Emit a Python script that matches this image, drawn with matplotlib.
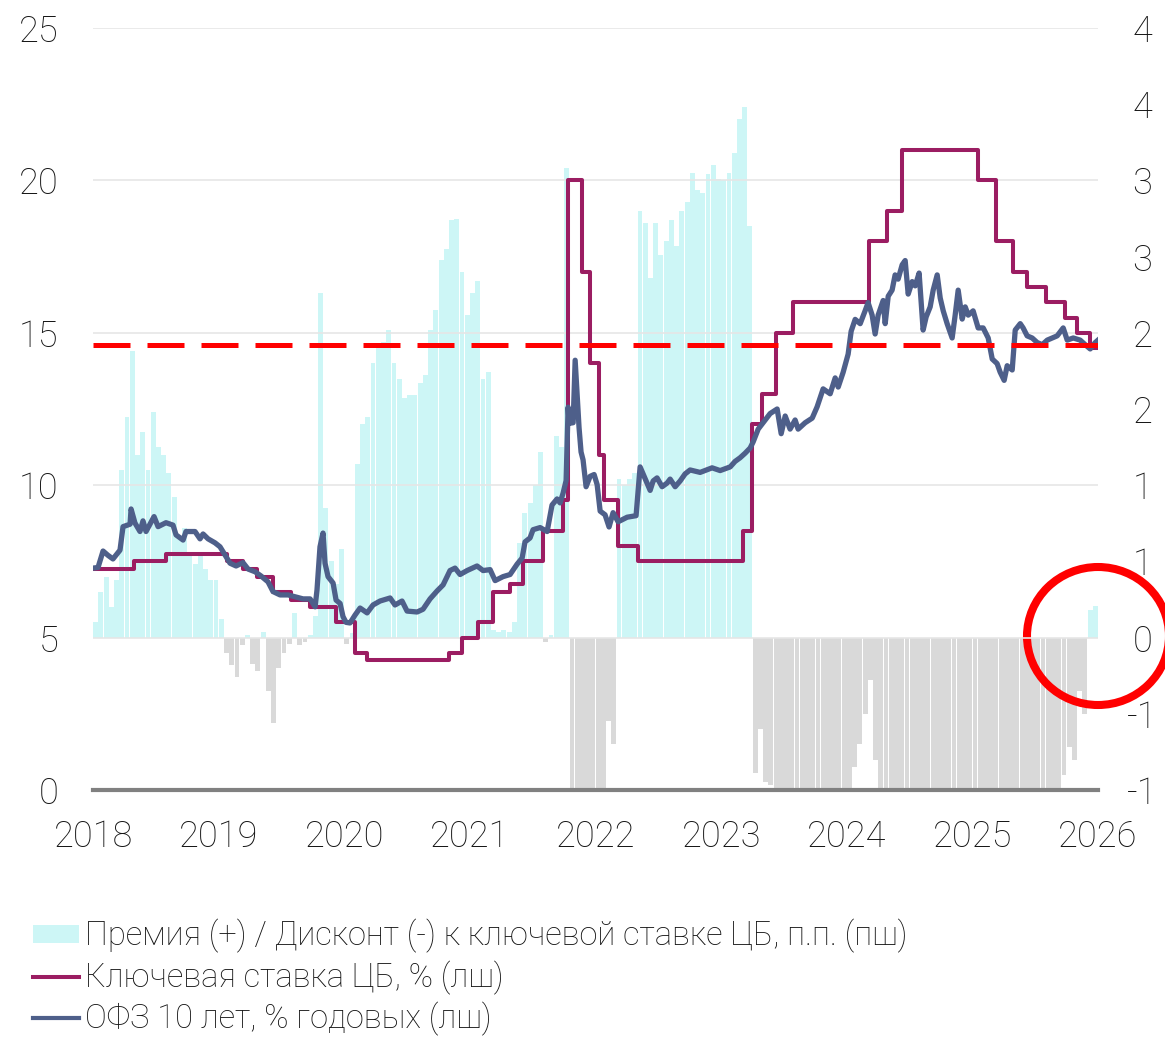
import numpy as np
import matplotlib
matplotlib.use("Agg")
import matplotlib.pyplot as plt
from matplotlib.patches import Patch, Ellipse
from matplotlib.lines import Line2D

plt.rcParams['font.family'] = ['Roboto', 'DejaVu Sans']
plt.rcParams['font.weight'] = 'light'

# ---------------- data ----------------
years = [2018, 2019, 2020, 2021, 2022, 2023, 2024, 2025, 2026]

# key rate (step changes), chart-time positions
key_t = [2018.000, 2018.326, 2018.581, 2019.067, 2019.194, 2019.306, 2019.433, 2019.576,
         2019.728, 2019.935, 2020.086, 2020.182, 2020.834, 2020.938, 2021.065, 2021.185,
         2021.320, 2021.424, 2021.583, 2021.742, 2021.782, 2021.893, 2021.953, 2022.025,
         2022.068, 2022.180, 2022.335, 2023.175, 2023.243, 2023.326, 2023.438, 2023.573,
         2024.178, 2024.322, 2024.441, 2025.046, 2025.189, 2025.325, 2025.436, 2025.588,
         2025.739, 2025.834, 2025.938, 2026.000]
key_v = [7.25, 7.5, 7.75, 7.5, 7.25, 7.0, 6.5, 6.25, 6.0, 5.5,
         4.5, 4.25, 4.5, 5.0, 5.5, 6.5, 6.75, 7.5, 8.5, 9.5,
         20.0, 17.0, 14.0, 11.0, 9.5, 8.0, 7.5, 8.5, 12.0, 13.0,
         15.0, 16.0, 18.0, 19.0, 21.0, 20.0, 18.0, 17.0, 16.5, 16.0,
         15.5, 15.0, 14.5, 14.5]

# OFZ 10y yield
ofz_t = [2018.000, 2018.040, 2018.080, 2018.119, 2018.159, 2018.215, 2018.239, 2018.295,
         2018.303, 2018.334, 2018.374, 2018.398, 2018.422, 2018.486, 2018.518, 2018.581,
         2018.637, 2018.661, 2018.717, 2018.740, 2018.812, 2018.852, 2018.876, 2018.916,
         2018.971, 2019.011, 2019.051, 2019.091, 2019.139, 2019.194, 2019.234, 2019.290,
         2019.338, 2019.393, 2019.433, 2019.489, 2019.553, 2019.608, 2019.672, 2019.728,
         2019.768, 2019.783, 2019.807, 2019.831, 2019.847, 2019.871, 2019.911, 2019.935,
         2019.967, 2019.990, 2020.014, 2020.046, 2020.086, 2020.126, 2020.182, 2020.229,
         2020.285, 2020.365, 2020.404, 2020.460, 2020.500, 2020.580, 2020.627, 2020.683,
         2020.739, 2020.787, 2020.842, 2020.882, 2020.922, 2020.978, 2021.057, 2021.105,
         2021.161, 2021.201, 2021.264, 2021.320, 2021.376, 2021.416, 2021.439, 2021.479,
         2021.503, 2021.559, 2021.615, 2021.654, 2021.694, 2021.718, 2021.742, 2021.766,
         2021.782, 2021.790, 2021.822, 2021.838, 2021.854, 2021.869, 2021.885, 2021.901,
         2021.925, 2021.957, 2021.989, 2022.013, 2022.037, 2022.076, 2022.108, 2022.140,
         2022.180, 2022.252, 2022.323, 2022.355, 2022.379, 2022.435, 2022.459, 2022.490,
         2022.530, 2022.570, 2022.594, 2022.634, 2022.674, 2022.713, 2022.753, 2022.833,
         2022.928, 2022.992, 2023.072, 2023.111, 2023.151, 2023.191, 2023.231, 2023.255,
         2023.295, 2023.334, 2023.390, 2023.446, 2023.478, 2023.510, 2023.549, 2023.589,
         2023.613, 2023.669, 2023.725, 2023.764, 2023.812, 2023.868, 2023.908, 2023.932,
         2023.971, 2024.011, 2024.035, 2024.067, 2024.107, 2024.146, 2024.170, 2024.202,
         2024.226, 2024.250, 2024.290, 2024.306, 2024.330, 2024.361, 2024.385, 2024.409,
         2024.441, 2024.465, 2024.489, 2024.521, 2024.545, 2024.576, 2024.608, 2024.632,
         2024.664, 2024.688, 2024.720, 2024.744, 2024.768, 2024.799, 2024.839, 2024.863,
         2024.887, 2024.919, 2024.943, 2024.967, 2025.006, 2025.046, 2025.086, 2025.126,
         2025.158, 2025.197, 2025.221, 2025.253, 2025.277, 2025.317, 2025.341, 2025.381,
         2025.404, 2025.436, 2025.476, 2025.516, 2025.556, 2025.596, 2025.635, 2025.675,
         2025.723, 2025.755, 2025.803, 2025.858, 2025.898, 2025.938, 2025.978, 2026.000]
ofz_v = [7.28, 7.30, 7.84, 7.70, 7.58, 7.87, 8.64, 8.72,
         9.22, 8.76, 8.48, 8.83, 8.48, 8.97, 8.64, 8.77,
         8.69, 8.37, 8.20, 8.48, 8.48, 8.24, 8.40, 8.24,
         8.11, 7.98, 7.71, 7.44, 7.35, 7.46, 7.25, 7.16,
         7.02, 6.83, 6.51, 6.40, 6.40, 6.34, 6.27, 6.27,
         6.01, 6.56, 7.98, 8.43, 7.44, 7.00, 6.79, 6.23,
         6.12, 5.69, 5.50, 5.48, 5.74, 5.97, 5.81, 6.07,
         6.20, 6.30, 6.07, 6.20, 5.87, 5.84, 5.93, 6.27,
         6.53, 6.73, 7.20, 7.28, 7.07, 7.20, 7.35, 7.20,
         7.23, 6.87, 7.00, 7.07, 7.41, 7.61, 8.14, 8.27,
         8.54, 8.61, 8.48, 9.35, 9.55, 9.42, 9.74, 10.15,
         12.56, 12.03, 12.05, 14.10, 12.96, 11.89, 11.09, 10.83,
         9.95, 10.29, 10.35, 10.02, 9.15, 9.03, 8.63, 9.10,
         8.80, 8.95, 9.00, 10.60, 10.37, 9.83, 10.14, 10.24,
         9.95, 10.07, 10.20, 9.95, 10.14, 10.37, 10.50, 10.42,
         10.57, 10.48, 10.60, 10.78, 10.90, 11.05, 11.22, 11.42,
         11.84, 12.05, 12.35, 12.50, 11.69, 12.27, 11.84, 12.14,
         11.84, 12.05, 12.20, 12.57, 13.16, 13.00, 13.52, 13.22,
         13.70, 14.30, 15.05, 15.44, 15.30, 15.72, 15.99, 15.58,
         14.96, 15.58, 16.06, 15.30, 16.20, 16.40, 16.90, 16.76,
         17.23, 17.37, 16.27, 16.68, 16.54, 16.96, 15.09, 15.52,
         15.85, 16.40, 16.90, 16.14, 15.72, 15.30, 14.83, 15.58,
         16.40, 15.45, 15.85, 15.58, 15.72, 15.16, 15.16, 14.83,
         14.14, 13.99, 13.71, 13.44, 13.92, 13.78, 15.09, 15.30,
         15.16, 14.90, 14.83, 14.68, 14.61, 14.76, 14.83, 14.90,
         15.16, 14.76, 14.83, 14.76, 14.61, 14.47, 14.68, 14.76]

# premium (+) / discount (-) to key rate, p.p., semi-monthly (right axis)
prem = [0.10, 0.30, 0.40, 0.20, 0.38, 1.10, 1.45, 1.88, 1.20, 1.35,
        1.10, 1.48, 1.25, 1.20, 1.08, 0.92, 0.66, 0.72, 0.56, 0.48,
        0.55, 0.45, 0.38, 0.38, 0.12, -0.10, -0.18, -0.26, -0.05, 0.02,
        -0.17, -0.22, 0.04, -0.35, -0.56, -0.20, -0.10, -0.04, 0.16, -0.05,
        -0.03, 0.02, 0.14, 2.26, 0.85, 0.50, 0.35, 0.58, -0.04, 0.03,
        1.14, 1.40, 1.45, 1.80, 1.93, 1.94, 2.02, 1.80, 1.70, 1.57,
        1.59, 1.59, 1.67, 1.72, 2.02, 2.15, 2.48, 2.55, 2.74, 2.75,
        2.40, 2.12, 2.26, 2.34, 1.70, 1.74, 0.05, 0.04, 0.05, 0.04,
        0.10, 0.62, 0.82, 0.88, 1.00, 1.22, -0.03, 0.02, 1.32, 1.25,
        3.08, -1.0, -1.0, -1.0, -1.0, -1.0, -1.0, -1.0, -0.55, -0.70,
        1.04, 1.00, 1.04, 1.08, 2.80, 2.72, 2.36, 2.72, 2.51, 2.60,
        2.74, 2.57, 2.80, 2.86, 3.05, 2.94, 2.92, 3.04, 3.10, 3.01,
        3.00, 3.05, 3.18, 3.40, 3.48, 2.70, -0.89, -0.60, -0.95, -0.97,
        -1.0, -1.0, -1.0, -1.0, -1.0, -1.0, -1.0, -1.0, -1.0, -1.0,
        -1.0, -1.0, -1.0, -1.0, -1.0, -0.85, -0.70, -0.50, -0.28, -0.80,
        -1.0, -1.0, -1.0, -1.0, -1.0, -1.0, -1.0, -1.0, -1.0, -1.0,
        -1.0, -1.0, -1.0, -1.0, -1.0, -1.0, -1.0, -1.0, -1.0, -1.0,
        -1.0, -1.0, -1.0, -1.0, -1.0, -1.0, -1.0, -1.0, -1.0, -1.0,
        -1.0, -1.0, -1.0, -1.0, -1.0, -0.90, -0.72, -0.80, -0.35, -0.50,
        0.18, 0.21]
prem_t = 2018 + (np.arange(len(prem)) + 0.5) / 24.0

ref_level = 14.6
left_ticks = [0, 5, 10, 15, 20, 25]
right_ticks = [-1.0, -0.5, 0.0, 0.5, 1.0, 1.5, 2.0, 2.5, 3.0, 3.5, 4.0]
right_labels = ['-1', '-1', '0', '1', '1', '2', '2', '3', '3', '4', '4']

labels = ['Премия (+) / Дисконт (-) к ключевой ставке ЦБ, п.п. (пш)',
          'Ключевая ставка ЦБ, % (лш)',
          'ОФЗ 10 лет, % годовых (лш)']

# ---------------- styles ----------------
C_POS = '#cdf6f6'
C_NEG = '#d9d9d9'
C_KEY = '#9b1d62'
C_OFZ = '#4e5f8a'
C_RED = '#ff0000'
TXT = '#151515'

W, H = 1165, 1041
fig = plt.figure(figsize=(W / 100, H / 100), dpi=100)
axL = fig.add_axes([93 / W, 1 - 790 / H, (1098 - 93) / W, (790 - 28) / H])
axR = axL.twinx()
axL.set_zorder(axR.get_zorder() + 1)
axL.patch.set_visible(False)

colors = [C_POS if v >= 0 else C_NEG for v in prem]
axR.bar(prem_t, prem, width=0.93 / 24, color=colors, linewidth=0)
axR.set_ylim(-1, 4)

axL.step(key_t, key_v, where='post', color=C_KEY, lw=2.9, zorder=3)
axL.plot(ofz_t, ofz_v, color=C_OFZ, lw=3.8, zorder=4, solid_joinstyle='round')
axL.axhline(ref_level, color=C_RED, lw=3.6, dashes=(7.4, 3.4), zorder=5)

axL.set_xlim(2018, 2026)
axL.set_ylim(0, 25)
axL.set_yticks(left_ticks)
axL.set_xticks(years)
axL.set_xticklabels([str(y) for y in years])
axL.yaxis.grid(True, color='#e6e6e6', lw=1.2)
axL.set_axisbelow(True)

for s in ['top', 'left', 'right']:
    axL.spines[s].set_visible(False)
    axR.spines[s].set_visible(False)
axR.spines['bottom'].set_visible(False)
axL.spines['bottom'].set_color('#808080')
axL.spines['bottom'].set_linewidth(3.0)
axL.spines['bottom'].set_zorder(6)

axL.tick_params(axis='y', length=0, pad=25, labelsize=26, labelcolor=TXT)
axL.tick_params(axis='x', length=0, pad=21, labelsize=26, labelcolor=TXT)
axR.set_yticks(right_ticks)
axR.set_yticklabels(right_labels)
axR.tick_params(axis='y', length=0, pad=32, labelsize=26, labelcolor=TXT)
for t in axR.get_yticklabels():
    t.set_horizontalalignment('center')

handles = [Patch(facecolor=C_POS, edgecolor='none'),
           Line2D([0], [0], color=C_KEY, lw=2.9),
           Line2D([0], [0], color=C_OFZ, lw=3.0)]
fig.legend(handles, labels, loc='upper left', bbox_to_anchor=(33 / W, 1 - 919 / H),
           frameon=False, fontsize=23.5, handlelength=1.4, handleheight=0.48,
           handletextpad=0.2, labelspacing=0.22, borderpad=0, borderaxespad=0,
           labelcolor=TXT)

fig.add_artist(Ellipse((1098 / 100, (H - 636) / 100), 1.42, 1.38,
                       transform=fig.dpi_scale_trans, fill=False,
                       edgecolor=C_RED, lw=5.8, clip_on=False))

fig.savefig('out.png', dpi=100)
